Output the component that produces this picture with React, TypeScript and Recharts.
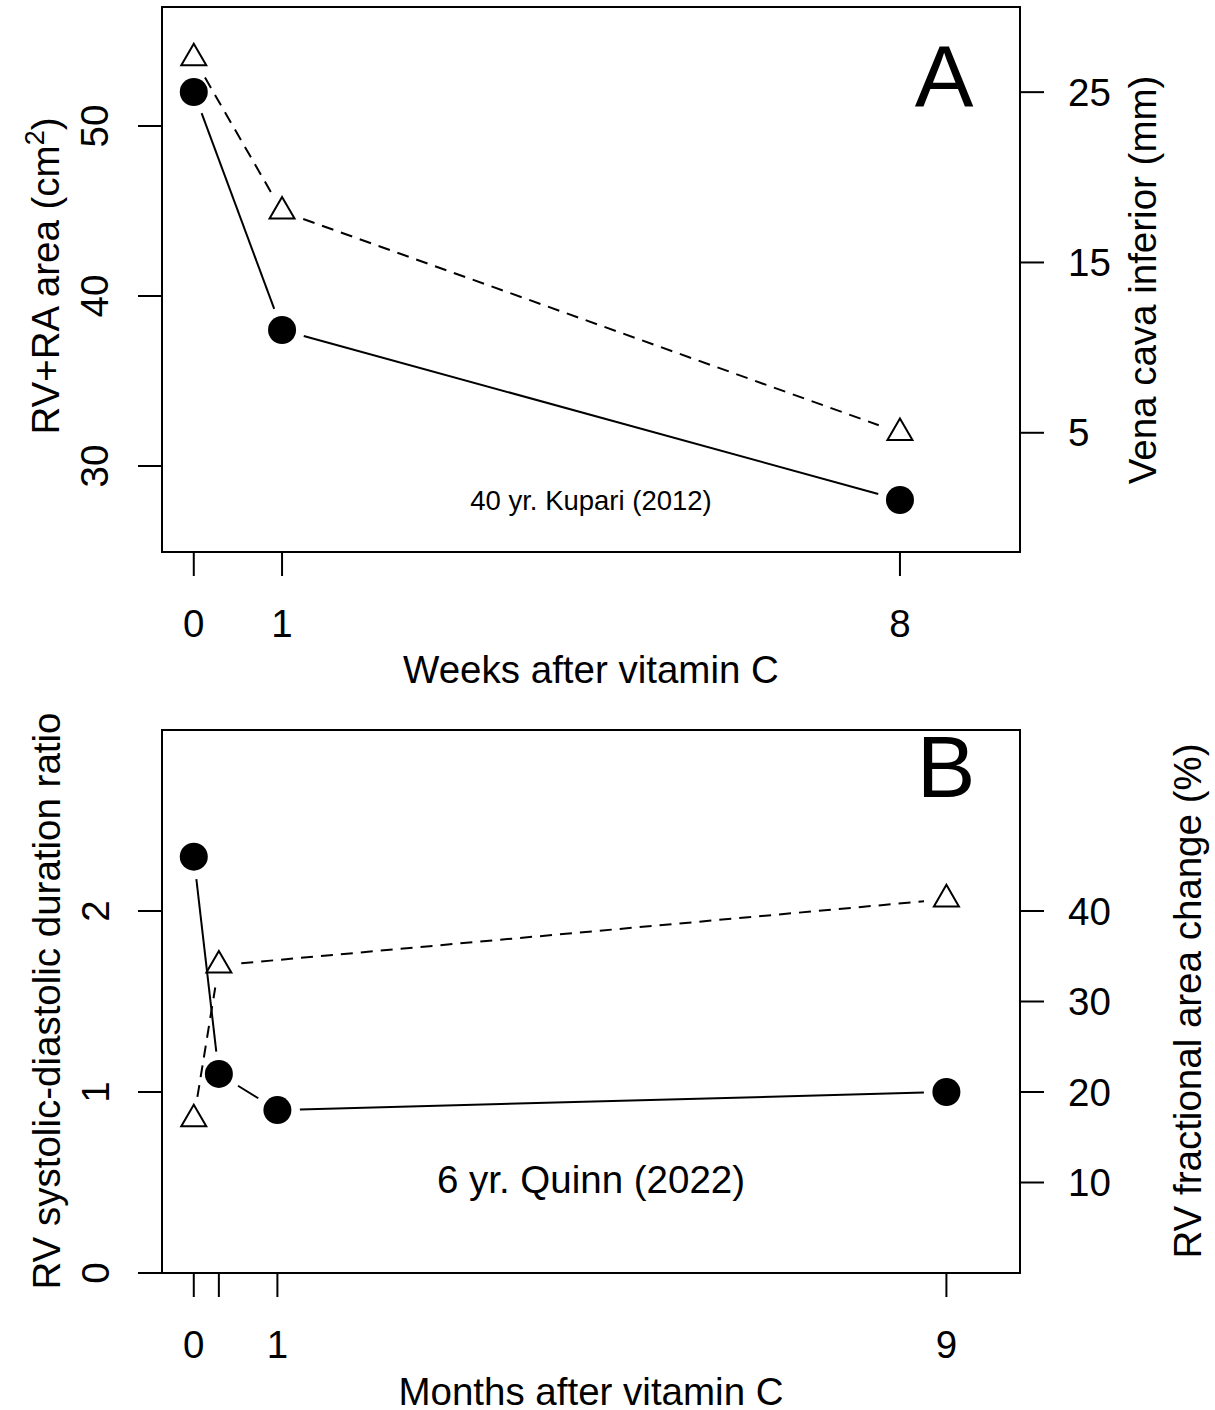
import React from 'react';
import { ComposedChart, Line, XAxis, YAxis, ReferenceArea } from 'recharts';

const FONT = '"Liberation Sans", Arial, Helvetica, sans-serif';
const FS = 38.5;

// Panel A - Kupari (2012), weeks after vitamin C
const weeksA = [0, 1, 8];
const rvRaArea = [52, 38, 28];
const venaCava = [27, 18, 5];
const weekTicks = [0, 1, 8];
const areaTicks = [30, 40, 50];
const venaTicks = [5, 15, 25];

// Panel B - Quinn (2022), months after vitamin C
const monthsRatio = [0, 0.3, 1, 9];
const sdRatio = [2.3, 1.1, 0.9, 1.0];
const monthsFac = [0, 0.3, 9];
const fracAreaChange = [17, 34, 41.3];
const monthTicks = [0, 0.3, 1, 9];
const monthTickLabels = ['0', '', '1', '9'];
const ratioTicks = [0, 1, 2];
const facTicks = [10, 20, 30, 40];

const zip = (xs: number[], ys: number[]) => xs.map((x, i) => ({ x, y: ys[i] }));

const GAP = 22.5;

// R type="b": segment to the next point, leaving a gap round each marker
function segment(props: any, dashed: boolean) {
  const { cx, cy, index, points } = props;
  if (!points || index >= points.length - 1) return null;
  const nx = points[index + 1].x;
  const ny = points[index + 1].y;
  const dx = nx - cx;
  const dy = ny - cy;
  const len = Math.hypot(dx, dy);
  if (len <= 2 * GAP) return null;
  const ux = dx / len;
  const uy = dy / len;
  return (
    <line
      x1={cx + ux * GAP}
      y1={cy + uy * GAP}
      x2={nx - ux * GAP}
      y2={ny - uy * GAP}
      stroke="#000"
      strokeWidth={2}
      strokeDasharray={dashed ? '12 8' : undefined}
    />
  );
}

const circleDot = (props: any) => {
  const { cx, cy, index } = props;
  return (
    <g key={`c-${index}`}>
      {segment(props, false)}
      <circle cx={cx} cy={cy} r={14} fill="#000" />
    </g>
  );
};

const triangleDot = (props: any) => {
  const { cx, cy, index } = props;
  const d = `M${cx},${cy - 14.4} L${cx + 12.5},${cy + 7.2} L${cx - 12.5},${cy + 7.2} Z`;
  return (
    <g key={`t-${index}`}>
      {segment(props, true)}
      <path d={d} fill="none" stroke="#000" strokeWidth={2} strokeLinejoin="miter" />
    </g>
  );
};

const makeXTick = (ticks: number[], labels?: string[]) => (props: any) => {
  const { x, y, payload } = props;
  const i = ticks.indexOf(payload.value);
  const label = labels ? labels[i] : String(payload.value);
  return (
    <text x={x} y={y + 61} textAnchor="middle" fontSize={FS} fontFamily={FONT} fill="#000">
      {label}
    </text>
  );
};

const leftTick = (props: any) => {
  const { x, y, payload } = props;
  const tx = x - 43;
  return (
    <text
      x={tx}
      y={y}
      transform={`rotate(-90 ${tx} ${y})`}
      textAnchor="middle"
      dominantBaseline="central"
      fontSize={FS}
      fontFamily={FONT}
      fill="#000"
    >
      {payload.value}
    </text>
  );
};

const rightTick = (props: any) => {
  const { x, y, payload } = props;
  return (
    <text x={x + 24} y={y} textAnchor="start" dominantBaseline="central" fontSize={FS} fontFamily={FONT} fill="#000">
      {payload.value}
    </text>
  );
};

const tickLine = { stroke: '#000', strokeWidth: 2 };

const App: React.FC = () => {
  const xDomA = [-0.36, 9.36];
  const lDomA = [24.94, 57.0];
  const rDomA = [-2, 30];
  const xDomB = [-0.38, 9.88];
  const lDomB = [0, 3];
  const rDomB = [0, 60];

  return (
    <div style={{ position: 'absolute', left: 0, top: 0, width: 1215, height: 1410, background: '#fff' }}>
      <ComposedChart width={1215} height={705} margin={{ top: 7, left: 82, right: 115, bottom: 93 }}>
        <XAxis
          type="number"
          dataKey="x"
          domain={xDomA}
          ticks={weekTicks}
          height={60}
          axisLine={false}
          tickLine={tickLine}
          tickSize={24}
          tickMargin={0}
          tick={makeXTick(weekTicks)}
          interval={0}
        />
        <YAxis
          yAxisId="l"
          orientation="left"
          domain={lDomA}
          ticks={areaTicks}
          width={80}
          axisLine={false}
          tickLine={tickLine}
          tickSize={24}
          tickMargin={0}
          tick={leftTick}
          interval={0}
        />
        <YAxis
          yAxisId="r"
          orientation="right"
          domain={rDomA}
          ticks={venaTicks}
          width={80}
          axisLine={false}
          tickLine={tickLine}
          tickSize={24}
          tickMargin={0}
          tick={rightTick}
          interval={0}
        />
        <ReferenceArea
          yAxisId="l"
          x1={xDomA[0]}
          x2={xDomA[1]}
          y1={lDomA[0]}
          y2={lDomA[1]}
          fill="none"
          fillOpacity={0}
          stroke="#000"
          strokeWidth={2}
          ifOverflow="visible"
        />
        <Line
          yAxisId="r"
          data={zip(weeksA, venaCava)}
          dataKey="y"
          stroke="none"
          dot={triangleDot}
          activeDot={false}
          isAnimationActive={false}
        />
        <Line
          yAxisId="l"
          data={zip(weeksA, rvRaArea)}
          dataKey="y"
          stroke="none"
          dot={circleDot}
          activeDot={false}
          isAnimationActive={false}
        />
      </ComposedChart>

      <ComposedChart width={1215} height={705} margin={{ top: 25, left: 82, right: 115, bottom: 77 }}>
        <XAxis
          type="number"
          dataKey="x"
          domain={xDomB}
          ticks={monthTicks}
          height={60}
          axisLine={false}
          tickLine={tickLine}
          tickSize={24}
          tickMargin={0}
          tick={makeXTick(monthTicks, monthTickLabels)}
          interval={0}
        />
        <YAxis
          yAxisId="l"
          orientation="left"
          domain={lDomB}
          ticks={ratioTicks}
          width={80}
          axisLine={false}
          tickLine={tickLine}
          tickSize={24}
          tickMargin={0}
          tick={leftTick}
          interval={0}
        />
        <YAxis
          yAxisId="r"
          orientation="right"
          domain={rDomB}
          ticks={facTicks}
          width={80}
          axisLine={false}
          tickLine={tickLine}
          tickSize={24}
          tickMargin={0}
          tick={rightTick}
          interval={0}
        />
        <ReferenceArea
          yAxisId="l"
          x1={xDomB[0]}
          x2={xDomB[1]}
          y1={lDomB[0]}
          y2={lDomB[1]}
          fill="none"
          fillOpacity={0}
          stroke="#000"
          strokeWidth={2}
          ifOverflow="visible"
        />
        <Line
          yAxisId="r"
          data={zip(monthsFac, fracAreaChange)}
          dataKey="y"
          stroke="none"
          dot={triangleDot}
          activeDot={false}
          isAnimationActive={false}
        />
        <Line
          yAxisId="l"
          data={zip(monthsRatio, sdRatio)}
          dataKey="y"
          stroke="none"
          dot={circleDot}
          activeDot={false}
          isAnimationActive={false}
        />
      </ComposedChart>

      {/* titles and annotations */}
      <svg
        width={1215}
        height={1410}
        style={{ position: 'absolute', left: 0, top: 0, pointerEvents: 'none' }}
        fontFamily={FONT}
        fill="#000"
      >
        <text x={944} y={107} fontSize={88} textAnchor="middle">A</text>
        <text x={591} y={510} fontSize={27.5} textAnchor="middle">40 yr. Kupari (2012)</text>
        <text x={591} y={683} fontSize={FS} textAnchor="middle">Weeks after vitamin C</text>
        <text transform="translate(59,276) rotate(-90)" fontSize={FS} textAnchor="middle">
          RV+RA area (cm<tspan dy={-15} fontSize={27}>2</tspan><tspan dy={15}>)</tspan>
        </text>
        <text transform="translate(1156,280) rotate(-90)" fontSize={FS} textAnchor="middle">
          Vena cava inferior (mm)
        </text>

        <text x={946} y={797} fontSize={88} textAnchor="middle">B</text>
        <text x={591} y={1193} fontSize={FS} textAnchor="middle">6 yr. Quinn (2022)</text>
        <text x={591} y={1405} fontSize={FS} textAnchor="middle">Months after vitamin C</text>
        <text transform="translate(60,1001) rotate(-90)" fontSize={FS} textAnchor="middle">
          RV systolic-diastolic duration ratio
        </text>
        <text transform="translate(1201,1001) rotate(-90)" fontSize={FS} textAnchor="middle">
          RV fractional area change (%)
        </text>
      </svg>
    </div>
  );
};

export default App;
